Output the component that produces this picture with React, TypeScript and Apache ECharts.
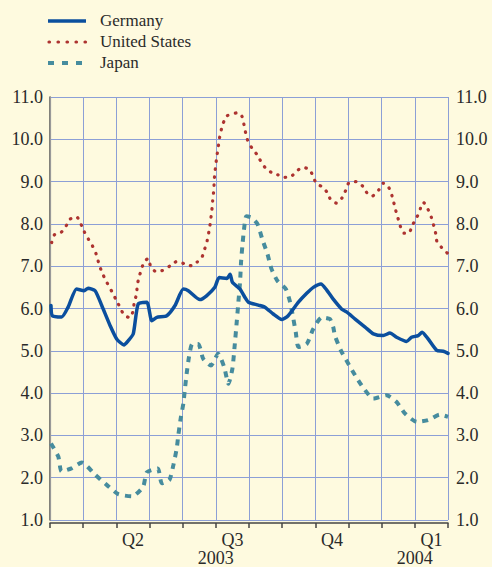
import React, { useEffect, useRef } from "react";
import * as echarts from "echarts";

// x = months since 1 March 2003 (gridlines at each month start), y = percent
const germanyX = [0.03, 0.07, 0.35, 0.55, 0.8, 1.03, 1.15, 1.36, 1.56, 1.81, 2.01, 2.23, 2.36, 2.51, 2.66, 2.92, 3.07, 3.22, 3.52, 3.77, 4.02, 4.17, 4.52, 4.72, 4.97, 5.1, 5.33, 5.43, 5.5, 5.73, 5.88, 5.98, 6.28, 6.48, 6.73, 6.99, 7.18, 7.49, 7.74, 7.94, 8.17, 8.34, 8.54, 8.79, 8.94, 9.2, 9.5, 9.75, 10.05, 10.25, 10.45, 10.75, 10.9, 11.1, 11.22, 11.4, 11.66, 11.86, 12.0];
const germanyY = [6.07, 5.83, 5.8, 6.04, 6.46, 6.42, 6.48, 6.42, 6.07, 5.6, 5.28, 5.14, 5.24, 5.4, 6.11, 6.15, 5.71, 5.79, 5.83, 6.07, 6.46, 6.42, 6.21, 6.3, 6.5, 6.73, 6.71, 6.81, 6.62, 6.46, 6.26, 6.15, 6.08, 6.03, 5.87, 5.74, 5.83, 6.15, 6.36, 6.5, 6.58, 6.44, 6.22, 5.99, 5.92, 5.75, 5.56, 5.4, 5.36, 5.42, 5.32, 5.22, 5.32, 5.36, 5.44, 5.28, 5.01, 4.99, 4.94];

const usX = [0.05, 0.13, 0.32, 0.47, 0.6, 0.8, 0.93, 1.03, 1.15, 1.28, 1.39, 1.46, 1.54, 1.64, 1.76, 1.88, 1.99, 2.11, 2.23, 2.41, 2.51, 2.54, 2.61, 2.63, 2.68, 2.76, 2.84, 2.96, 3.04, 3.2, 3.44, 3.64, 3.84, 4.04, 4.27, 4.44, 4.59, 4.67, 4.74, 4.79, 4.83, 4.86, 4.89, 4.91, 4.94, 4.95, 4.97, 5.0, 5.03, 5.07, 5.1, 5.15, 5.22, 5.33, 5.5, 5.66, 5.79, 5.85, 5.9, 5.97, 6.1, 6.25, 6.37, 6.51, 6.67, 6.87, 7.06, 7.3, 7.46, 7.62, 7.83, 7.94, 8.04, 8.21, 8.37, 8.47, 8.64, 8.81, 8.92, 9.01, 9.25, 9.43, 9.56, 9.72, 9.91, 10.05, 10.18, 10.29, 10.36, 10.42, 10.49, 10.56, 10.67, 10.82, 10.92, 11.04, 11.15, 11.2, 11.27, 11.4, 11.5, 11.57, 11.63, 11.67, 11.81, 11.98];
const usY = [7.56, 7.74, 7.79, 7.93, 8.11, 8.17, 8.0, 7.82, 7.65, 7.48, 7.29, 7.1, 6.91, 6.73, 6.55, 6.38, 6.21, 6.03, 5.85, 5.78, 5.95, 6.15, 6.34, 6.54, 6.73, 6.93, 7.11, 7.18, 6.98, 6.87, 6.91, 7.02, 7.12, 7.06, 7.01, 7.1, 7.23, 7.42, 7.61, 7.81, 8.0, 8.2, 8.4, 8.59, 8.81, 9.01, 9.2, 9.4, 9.6, 9.79, 9.99, 10.18, 10.38, 10.55, 10.6, 10.63, 10.54, 10.34, 10.15, 9.95, 9.78, 9.63, 9.46, 9.31, 9.22, 9.16, 9.1, 9.14, 9.26, 9.34, 9.28, 9.11, 8.94, 8.88, 8.73, 8.56, 8.49, 8.62, 8.8, 8.97, 9.0, 8.89, 8.73, 8.66, 8.8, 8.96, 8.91, 8.72, 8.52, 8.33, 8.14, 7.95, 7.78, 7.78, 7.96, 8.13, 8.3, 8.48, 8.5, 8.34, 8.15, 7.96, 7.77, 7.57, 7.44, 7.31];

const japanX = [0.03, 0.25, 0.35, 0.65, 0.96, 1.36, 1.71, 2.06, 2.48, 2.81, 2.92, 3.25, 3.37, 3.6, 3.72, 3.82, 3.87, 3.94, 4.02, 4.07, 4.12, 4.19, 4.29, 4.47, 4.62, 4.85, 5.07, 5.25, 5.38, 5.5, 5.56, 5.63, 5.68, 5.73, 5.76, 5.8, 5.85, 5.92, 6.08, 6.26, 6.4, 6.56, 6.68, 6.86, 7.11, 7.24, 7.33, 7.41, 7.49, 7.74, 7.94, 8.19, 8.44, 8.54, 8.59, 8.77, 8.97, 9.2, 9.45, 9.75, 10.15, 10.45, 10.7, 11.06, 11.4, 11.75, 12.0];
const japanY = [2.81, 2.5, 2.15, 2.22, 2.36, 2.07, 1.83, 1.61, 1.56, 1.79, 2.13, 2.22, 1.87, 1.95, 2.3, 2.69, 3.01, 3.4, 3.75, 4.11, 4.46, 4.85, 5.16, 5.16, 4.81, 4.65, 4.93, 4.62, 4.22, 4.58, 5.05, 5.68, 6.15, 6.62, 7.09, 7.48, 7.87, 8.18, 8.15, 7.99, 7.64, 7.28, 6.93, 6.65, 6.46, 6.15, 5.79, 5.44, 5.09, 5.16, 5.52, 5.79, 5.75, 5.56, 5.36, 5.01, 4.73, 4.42, 4.12, 3.87, 3.95, 3.79, 3.52, 3.32, 3.36, 3.49, 3.44];

const seriesNames = ["Germany", "United States", "Japan"];
const quarterLabels: Record<string, string> = { "2.5": "Q2", "5.5": "Q3", "8.5": "Q4", "11.5": "Q1" };
const yearLabels: Record<string, string> = { "5": "2003", "11": "2004" };

const FONT = "Liberation Serif";
const BG = "#fefadf";
const GRID = "#8c9fd6";
const C_DE = "#0b4f9e";
const C_US = "#ad3330";
const C_JP = "#468c9e";

const zip = (xs: number[], ys: number[]) => xs.map((x, i) => [x, ys[i]]);

export default function App() {
  const ref = useRef<HTMLDivElement>(null);
  useEffect(() => {
    document.body.style.margin = "0";
    document.body.style.background = BG;
    const chart = echarts.init(ref.current!, null, { renderer: "svg" });
    const axisText = { fontFamily: FONT, fontSize: 18, color: "#2a2a2a" };
    const legendY = [21, 42, 63];
    chart.setOption({
      animation: false,
      backgroundColor: BG,
      textStyle: { fontFamily: FONT },
      grid: { left: 50, right: 44, top: 97, bottom: 45, containLabel: false },
      xAxis: [
        {
          type: "value", min: 0, max: 12, interval: 1, position: "bottom", offset: 3,
          axisLine: { show: true, lineStyle: { color: "#444", width: 1.5 } },
          axisTick: { show: true, length: 5, inside: false, lineStyle: { color: "#444", width: 1.5 } },
          axisLabel: { show: false },
          splitLine: { show: true, lineStyle: { color: GRID, width: 1 } },
        },
        {
          type: "value", min: 0, max: 12, interval: 0.5, position: "bottom", offset: 0,
          axisLine: { show: false }, axisTick: { show: false }, splitLine: { show: false },
          axisLabel: { ...axisText, margin: 11, formatter: (v: number) => quarterLabels[String(v)] || "" },
        },
        {
          type: "value", min: 0, max: 12, interval: 1, position: "bottom", offset: 0,
          axisLine: { show: false }, axisTick: { show: false }, splitLine: { show: false },
          axisLabel: { ...axisText, margin: 29, formatter: (v: number) => yearLabels[String(v)] || "" },
        },
      ],
      yAxis: [
        {
          type: "value", min: 1, max: 11, interval: 1, position: "left",
          axisLine: { show: true, lineStyle: { color: "#555", width: 1.5 } },
          axisTick: { show: false },
          axisLabel: { ...axisText, margin: 7, formatter: (v: number) => v.toFixed(1) },
          splitLine: { show: true, lineStyle: { color: GRID, width: 1 } },
        },
        {
          type: "value", min: 1, max: 11, interval: 1, position: "right", offset: 4,
          axisLine: { show: true, lineStyle: { color: "#999", width: 1.2 } },
          axisTick: { show: false },
          axisLabel: { ...axisText, margin: 4, formatter: (v: number) => v.toFixed(1) },
          splitLine: { show: false },
        },
      ],
      series: [
        {
          name: seriesNames[2], type: "line", xAxisIndex: 0, yAxisIndex: 0, showSymbol: false, smooth: 0.2,
          data: zip(japanX, japanY),
          lineStyle: { color: C_JP, width: 4, type: [6, 6], cap: "butt" },
        },
        {
          name: seriesNames[1], type: "line", xAxisIndex: 0, yAxisIndex: 0, showSymbol: false, smooth: 0.2,
          data: zip(usX, usY),
          lineStyle: { color: C_US, width: 3.2, type: [0.5, 7.5], cap: "round" },
        },
        {
          name: seriesNames[0], type: "line", xAxisIndex: 0, yAxisIndex: 0, showSymbol: false, smooth: 0.2,
          data: zip(germanyX, germanyY),
          lineStyle: { color: C_DE, width: 3.5, cap: "round", join: "round" },
        },
      ],
      graphic: [
        { type: "line", shape: { x1: 48, y1: legendY[0], x2: 86, y2: legendY[0] }, style: { stroke: C_DE, lineWidth: 3.5 } },
        { type: "line", shape: { x1: 49, y1: legendY[1], x2: 86, y2: legendY[1] }, style: { stroke: C_US, lineWidth: 3.2, lineDash: [0.5, 8.5], lineCap: "round" } },
        { type: "line", shape: { x1: 48, y1: legendY[2], x2: 86, y2: legendY[2] }, style: { stroke: C_JP, lineWidth: 4, lineDash: [6, 8] } },
        ...seriesNames.map((n, i) => ({
          type: "text", x: 100, y: legendY[i] - 1,
          style: { text: n, fontFamily: FONT, fontSize: 17, fill: "#2a2a2a", verticalAlign: "middle" },
        })),
      ],
    });
    return () => chart.dispose();
  }, []);
  return <div ref={ref} style={{ width: 492, height: 567, background: BG }} />;
}
